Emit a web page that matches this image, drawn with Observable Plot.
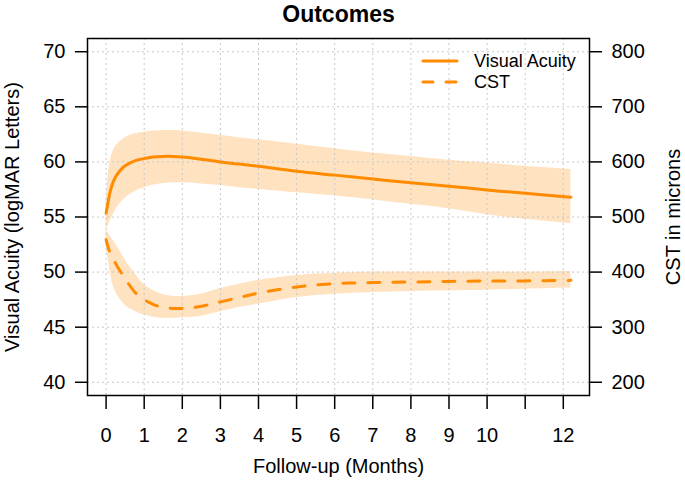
<!DOCTYPE html>
<html>
<head>
<meta charset="utf-8">
<script src="https://cdn.jsdelivr.net/npm/d3@7"></script>
<script src="https://cdn.jsdelivr.net/npm/@observablehq/plot@0.6"></script>
<style>
  html, body { margin: 0; padding: 0; background: white; }
  #wrap { position: relative; width: 685px; height: 480px; font-family: "Liberation Sans", Arial, Helvetica, sans-serif; }
  #legend { position: absolute; left: 0; top: 0; pointer-events: none; }
</style>
</head>
<body>
<div id="wrap"></div>
<script>
// Follow-up time (months)
const months = [0, 0.05, 0.1, 0.2, 0.35, 0.5, 0.75, 1, 1.25, 1.5, 1.75, 2, 2.5, 3, 3.5, 4, 5, 6, 7, 8, 9, 10, 11, 12.2];
// Visual acuity (logMAR letters): fitted mean and confidence band
const vaMean  = [55.35, 56.3, 57.2, 58.3, 59.15, 59.65, 60.1, 60.3, 60.45, 60.5, 60.5, 60.45, 60.25, 60.0, 59.8, 59.6, 59.15, 58.8, 58.45, 58.1, 57.8, 57.45, 57.15, 56.8];
const vaLower = [53.8, 54.2, 54.6, 55.3, 56.15, 56.7, 57.3, 57.65, 57.9, 58.05, 58.1, 58.1, 58.0, 57.85, 57.65, 57.5, 57.2, 56.9, 56.55, 56.15, 55.75, 55.2, 54.8, 54.4];
const vaUpper = [56.2, 58.6, 59.9, 61.1, 61.8, 62.2, 62.55, 62.7, 62.8, 62.85, 62.85, 62.8, 62.6, 62.4, 62.2, 62.0, 61.6, 61.2, 60.8, 60.5, 60.15, 59.9, 59.6, 59.3];
// Central subfield thickness (microns): fitted mean and confidence band
const cstMean  = [459, 446, 436, 422, 404, 388, 364, 350, 341, 336, 334, 334, 338, 346, 354, 362, 373, 379, 381, 382, 383, 384, 384, 385];
const cstLower = [444, 426, 404, 372, 352, 340, 329, 322, 318, 316, 316, 317, 320, 328, 336, 342, 354, 360, 363, 365, 366, 367, 369, 371];
const cstUpper = [476, 472, 466, 456, 440, 422, 398, 377, 366, 359, 356, 356, 360, 370, 378, 385, 394, 398, 400, 400, 400, 400, 400, 401];
// Axis ticks
const monthTicks = [0, 1, 2, 3, 4, 5, 6, 7, 8, 9, 10, 11, 12];
const monthLabels = ["0", "1", "2", "3", "4", "5", "6", "7", "8", "9", "10", "", "12"];
const vaTicks = [40, 45, 50, 55, 60, 65, 70];
const cstTicks = [200, 300, 400, 500, 600, 700, 800];

// secondary axis: CST 200..800 microns maps onto VA 40..70
const toLeft = c => 40 + (c - 200) / 20;

const rows = months.map((m, i) => ({
  m,
  va: vaMean[i], vaLo: vaLower[i], vaHi: vaUpper[i],
  cst: toLeft(cstMean[i]), cstLo: toLeft(cstLower[i]), cstHi: toLeft(cstUpper[i])
}));

const orange = "#FF8C00";
const font = "'Liberation Sans', Arial, Helvetica, sans-serif";

const chart = Plot.plot({
  width: 685,
  height: 480,
  marginLeft: 87,
  marginRight: 96,
  marginTop: 38,
  marginBottom: 85,
  x: {domain: [-0.488, 12.688], axis: null},
  y: {domain: [38.8, 71.2], axis: null},
  style: {fontFamily: font, fontSize: "20px", background: "white", color: "black", overflow: "visible"},
  marks: [
    Plot.areaY(rows, {x: "m", y1: "vaLo", y2: "vaHi", fill: orange, fillOpacity: 0.25, curve: "catmull-rom"}),
    Plot.areaY(rows, {x: "m", y1: "cstLo", y2: "cstHi", fill: orange, fillOpacity: 0.25, curve: "catmull-rom"}),
    Plot.gridX(monthTicks, {stroke: "#c8c8c8", strokeOpacity: 1, strokeDasharray: "2,3", strokeWidth: 1}),
    Plot.gridY(vaTicks, {stroke: "#c8c8c8", strokeOpacity: 1, strokeDasharray: "2,3", strokeWidth: 1}),
    Plot.line(rows, {x: "m", y: "va", stroke: orange, strokeWidth: 3, curve: "catmull-rom", strokeLinecap: "round"}),
    Plot.line(rows, {x: "m", y: "cst", stroke: orange, strokeWidth: 3, curve: "catmull-rom", strokeDasharray: "12,13", strokeLinecap: "round"}),
    Plot.axisX(monthTicks, {anchor: "bottom", tickSize: 14, tickPadding: 18, strokeWidth: 1.5, fontSize: 20, label: null,
      tickFormat: (d) => monthLabels[monthTicks.indexOf(d)]}),
    Plot.axisY(vaTicks, {anchor: "left", tickSize: 12, tickPadding: 10, strokeWidth: 1.5, fontSize: 20, label: null}),
    Plot.axisY(cstTicks.map(toLeft), {anchor: "right", tickSize: 12, tickPadding: 10, strokeWidth: 1.5, fontSize: 20, label: null,
      tickFormat: (d) => cstTicks[cstTicks.map(toLeft).indexOf(d)]}),
    Plot.frame({stroke: "black", strokeWidth: 1.5}),
    Plot.text(["Outcomes"], {frameAnchor: "top", dy: -24, fontSize: 23, fontWeight: "bold", lineAnchor: "middle"}),
    Plot.text(["Visual Acuity (logMAR Letters)"], {frameAnchor: "left", dx: -75, rotate: -90, fontSize: 20, textAnchor: "middle", lineAnchor: "middle"}),
    Plot.text(["CST in microns"], {frameAnchor: "right", dx: 84, rotate: -90, fontSize: 20, textAnchor: "middle", lineAnchor: "middle"}),
    Plot.text(["Follow-up (Months)"], {frameAnchor: "bottom", dy: 71, fontSize: 20, lineAnchor: "middle"})
  ]
});

const wrap = document.getElementById("wrap");
wrap.appendChild(chart);

// legend (top right, inside the plot box)
const legendItems = [
  {label: "Visual Acuity", dash: null},
  {label: "CST", dash: "12,13"}
];
const svgNS = "http://www.w3.org/2000/svg";
const leg = document.createElementNS(svgNS, "svg");
leg.setAttribute("id", "legend");
leg.setAttribute("width", 685);
leg.setAttribute("height", 480);
legendItems.forEach((item, i) => {
  const cy = 61 + i * 21;
  const ln = document.createElementNS(svgNS, "line");
  ln.setAttribute("x1", 423); ln.setAttribute("x2", 457);
  ln.setAttribute("y1", cy); ln.setAttribute("y2", cy);
  ln.setAttribute("stroke", orange); ln.setAttribute("stroke-width", 3);
  ln.setAttribute("stroke-linecap", "round");
  if (item.dash) ln.setAttribute("stroke-dasharray", "10,13");
  leg.appendChild(ln);
  const tx = document.createElementNS(svgNS, "text");
  tx.setAttribute("x", 474); tx.setAttribute("y", cy);
  tx.setAttribute("dy", "0.35em");
  tx.setAttribute("font-size", 18);
  tx.setAttribute("font-family", font);
  tx.setAttribute("fill", "black");
  tx.textContent = item.label;
  leg.appendChild(tx);
});
wrap.appendChild(leg);
</script>
</body>
</html>
